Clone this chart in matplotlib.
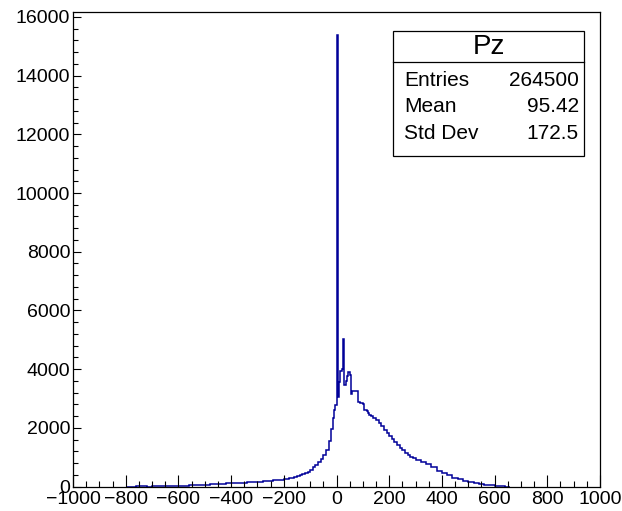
import numpy as np
import matplotlib
matplotlib.use("Agg")
import matplotlib.pyplot as plt
from matplotlib.ticker import MultipleLocator

plt.rcParams["font.family"] = ["Liberation Sans", "DejaVu Sans"]

# bin edges (variable width: fine near the peak, coarse in the tails)
edges_tail_left = np.arange(-800, -200, 20)
edges_left = np.arange(-200, -20, 10)
edges_peak = np.arange(-20, 130, 5)
edges_right = np.arange(130, 300, 10)
edges_tail_right = np.arange(300, 680, 20)

# counts, one per bin
counts_tail_left = [0, 0, 5, 10, 0, 5, 10, 15, 10, 20,
                    25, 30, 40, 45, 55, 60, 70, 80, 90, 105,
                    115, 120, 130, 145, 150, 165, 175, 190, 205, 230]
counts_left = [255, 270, 290, 305, 325, 350, 380, 420, 460,
               510, 570, 650, 740, 830, 920, 1060, 1250, 1550]
counts_peak = [1950, 2350, 2600, 2780, 15400, 3050, 3550, 3950, 4000, 5030,
               3450, 3600, 3750, 3900, 3800, 3160, 3270, 3270, 3250, 3250,
               2880, 2870, 2860, 2850, 2800, 2620, 2600, 2560, 2500, 2440]
counts_right = [2400, 2340, 2260, 2150, 2050, 1930, 1820, 1720, 1610,
                1500, 1400, 1320, 1230, 1150, 1080, 1020, 960]
counts_tail_right = [900, 830, 760, 650, 520, 450, 380, 300, 250,
                     200, 160, 130, 90, 60, 40, 25, 10, 0]

hist_name = "Pz"
stats_labels = ["Entries", "Mean", "Std Dev"]
stats_values = ["264500", "95.42", "172.5"]

edges = np.concatenate([edges_tail_left, edges_left, edges_peak,
                        edges_right, edges_tail_right])
counts = np.array(counts_tail_left + counts_left + counts_peak
                  + counts_right + counts_tail_right, dtype=float)

fig = plt.figure(figsize=(6.22, 5.11), dpi=100)
ax = fig.add_axes([73 / 622, 1 - 486.5 / 511, 527 / 622, 471.5 / 511 + 0.006])

ax.stairs(counts, edges, color="#000099", linewidth=1.1, baseline=0)

ax.set_xlim(-1000, 1000)
ax.set_ylim(0, 1.05 * counts.max())

ax.xaxis.set_major_locator(MultipleLocator(200))
ax.xaxis.set_minor_locator(MultipleLocator(50))
ax.yaxis.set_major_locator(MultipleLocator(2000))
ax.yaxis.set_minor_locator(MultipleLocator(400))

ax.tick_params(axis="x", which="major", direction="in", length=9, width=0.8,
               labelsize=14, pad=3, top=False)
ax.tick_params(axis="x", which="minor", direction="in", length=4.5, width=0.8, top=False)
ax.tick_params(axis="y", which="major", direction="in", length=6, width=0.8,
               labelsize=14, pad=2, right=False)
ax.tick_params(axis="y", which="minor", direction="in", length=3.5, width=0.8, right=False)
for s in ax.spines.values():
    s.set_linewidth(0.9)

# stats box
bx0, bx1 = 393 / 622, 584 / 622
by_top, by_bot = 1 - 31 / 511, 1 - 156 / 511
by_line = 1 - 62 / 511
box = plt.Rectangle((bx0, by_bot), bx1 - bx0, by_top - by_bot,
                    transform=fig.transFigure, fill=True, facecolor="white",
                    edgecolor="black", linewidth=0.9, zorder=5)
fig.patches.append(box)
fig.add_artist(plt.Line2D([bx0, bx1], [by_line, by_line], transform=fig.transFigure,
                          color="black", linewidth=0.9, zorder=6))
fig.text((bx0 + bx1) / 2, 1 - 46.5 / 511, hist_name, ha="center", va="center",
         fontsize=20, zorder=7)
row_y = [80, 106.7, 133.3]
for lab, val, y in zip(stats_labels, stats_values, row_y):
    fig.text(bx0 + 11 / 622, 1 - y / 511, lab, ha="left", va="center", fontsize=15, zorder=7)
    fig.text(bx1 - 5 / 622, 1 - y / 511, val, ha="right", va="center", fontsize=15, zorder=7)

fig.savefig("out.png", dpi=100)
